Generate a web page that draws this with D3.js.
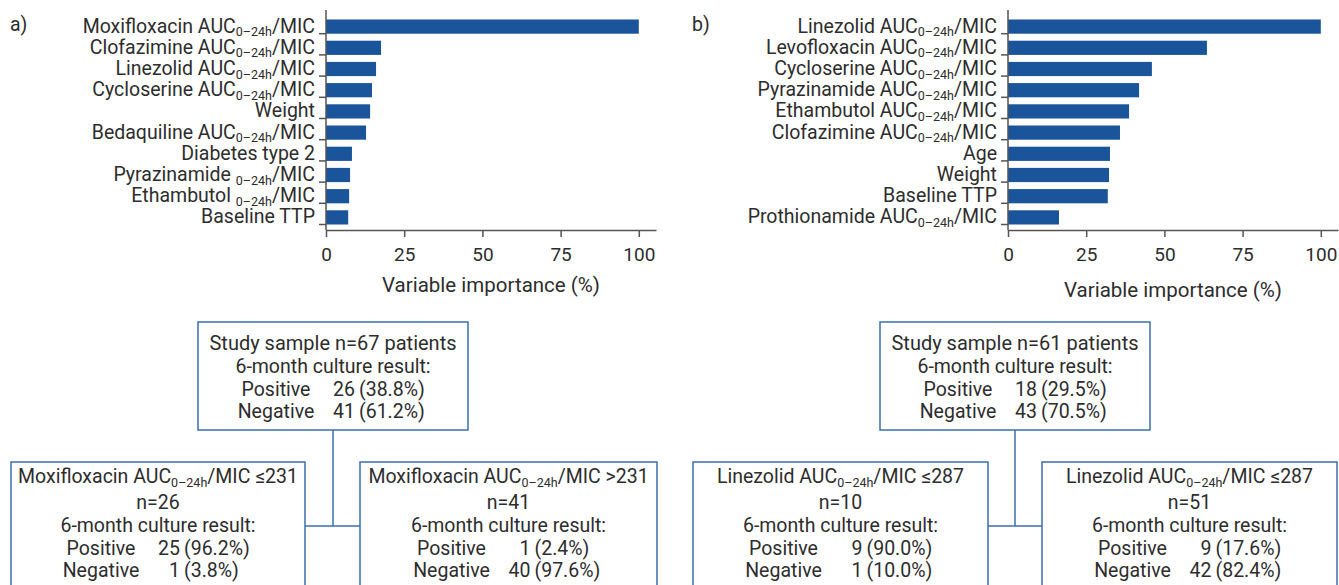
<!DOCTYPE html>
<html>
<head>
<meta charset="utf-8">
<script src="https://cdn.jsdelivr.net/npm/d3@7"></script>
<style>
  body { margin: 0; background: #fff; }
  svg text { font-family: Roboto, "Noto Sans", sans-serif; fill: #2d2d2d; }
</style>
</head>
<body>
<svg id="chart" width="1339" height="585"></svg>
<script>
// Panel a) variable importance
const labelsA = [
  "Moxifloxacin AUC_{0–24h}/MIC",
  "Clofazimine AUC_{0–24h}/MIC",
  "Linezolid AUC_{0–24h}/MIC",
  "Cycloserine AUC_{0–24h}/MIC",
  "Weight",
  "Bedaquiline AUC_{0–24h}/MIC",
  "Diabetes type 2",
  "Pyrazinamide _{0–24h}/MIC",
  "Ethambutol _{0–24h}/MIC",
  "Baseline TTP"
];
const valuesA = [100, 17.6, 16.0, 14.7, 14.1, 12.8, 8.3, 7.7, 7.4, 7.1];

// Panel b) variable importance
const labelsB = [
  "Linezolid AUC_{0–24h}/MIC",
  "Levofloxacin AUC_{0–24h}/MIC",
  "Cycloserine AUC_{0–24h}/MIC",
  "Pyrazinamide AUC_{0–24h}/MIC",
  "Ethambutol AUC_{0–24h}/MIC",
  "Clofazimine AUC_{0–24h}/MIC",
  "Age",
  "Weight",
  "Baseline TTP",
  "Prothionamide AUC_{0–24h}/MIC"
];
const valuesB = [100, 63.6, 46.0, 41.9, 38.7, 35.8, 32.6, 32.3, 31.9, 16.3];

const xTicks = [0, 25, 50, 75, 100];
const xTitle = "Variable importance (%)";

// Decision trees: root box, then the two split boxes
const rootA = { n: 67, pos: 26, posPct: "38.8%", neg: 41, negPct: "61.2%" };
const splitsA = [
  { head: "Moxifloxacin AUC_{0–24h}/MIC ≤231", n: 26, pos: 25, posPct: "96.2%", neg: 1, negPct: "3.8%" },
  { head: "Moxifloxacin AUC_{0–24h}/MIC >231", n: 41, pos: 1, posPct: "2.4%", neg: 40, negPct: "97.6%" }
];
const rootB = { n: 61, pos: 18, posPct: "29.5%", neg: 43, negPct: "70.5%" };
const splitsB = [
  { head: "Linezolid AUC_{0–24h}/MIC ≤287", n: 10, pos: 9, posPct: "90.0%", neg: 1, negPct: "10.0%" },
  { head: "Linezolid AUC_{0–24h}/MIC ≤287", n: 51, pos: 9, posPct: "17.6%", neg: 42, negPct: "82.4%" }
];

const svg = d3.select("#chart");
const barColor = "#1a549b";
const axisColor = "#555";
const boxColor = "#3b6fb0";
const fontSize = 19.5;
const subSize = 12.5;

// write "text_{sub}text" as tspans with a lowered subscript
function richText(sel, str) {
  const parts = str.split(/_\{([^}]*)\}/);
  let shifted = false;
  parts.forEach((p, i) => {
    if (p === "") return;
    const t = sel.append("tspan").text(p);
    if (i % 2 === 1) {
      t.attr("font-size", subSize).attr("dy", 3.5);
      shifted = true;
    } else if (shifted) {
      t.attr("dy", -3.5);
      shifted = false;
    }
  });
}

function drawPanel(labels, values, x0, x1, letter, titleY) {
  const g = svg.append("g");
  const x = d3.scaleLinear().domain([0, 105.5]).range([x0, x1]);
  const y = d3.scaleBand().domain(d3.range(labels.length))
    .range([16, 228]).paddingInner(0.33).paddingOuter(0.165);

  g.append("text").attr("x", x0 - 316).attr("y", 31)
    .attr("font-size", fontSize).text(letter);

  g.selectAll("rect.bar").data(values).join("rect")
    .attr("class", "bar")
    .attr("x", x(0))
    .attr("y", (d, i) => y(i))
    .attr("width", d => x(d) - x(0))
    .attr("height", y.bandwidth())
    .attr("fill", barColor);

  // y axis ticks
  const ya = g.append("g").attr("transform", `translate(${x0},0)`)
    .call(d3.axisLeft(y).tickSize(7).tickFormat(""));
  ya.select(".domain").remove();
  ya.selectAll("line").attr("stroke", axisColor).attr("stroke-width", 1.5)
    .attr("transform", `translate(0,${y.bandwidth() / 2})`);
  g.append("line").attr("x1", x0).attr("x2", x0).attr("y1", 10).attr("y2", 230)
    .attr("stroke", axisColor).attr("stroke-width", 1.5);

  labels.forEach((l, i) => {
    const t = g.append("text")
      .attr("x", x0 - 11)
      .attr("y", y(i) + y.bandwidth() / 2 + 6)
      .attr("text-anchor", "end")
      .attr("font-size", fontSize);
    richText(t, l);
  });

  // x axis
  const xa = g.append("g").attr("transform", "translate(0,230)")
    .call(d3.axisBottom(x).tickValues(xTicks).tickSize(7).tickSizeOuter(0));
  xa.select(".domain").attr("stroke", axisColor).attr("stroke-width", 1.5);
  xa.selectAll("line").attr("stroke", axisColor).attr("stroke-width", 1.5);
  xa.selectAll("text").attr("y", 31).attr("dy", 0)
    .attr("font-size", 19).attr("font-family", null).attr("fill", null);

  g.append("text").attr("x", (x0 + x1) / 2).attr("y", titleY)
    .attr("text-anchor", "middle").attr("font-size", 20.5).text(xTitle);
}

function box(g, x0, x1, y0, y1) {
  g.append("rect").attr("x", x0).attr("y", y0)
    .attr("width", x1 - x0).attr("height", y1 - y0)
    .attr("fill", "#fff").attr("stroke", boxColor).attr("stroke-width", 1.5);
}

function resultRows(g, cx, ys, d) {
  [["Positive", d.pos, d.posPct], ["Negative", d.neg, d.negPct]].forEach((r, i) => {
    g.append("text").attr("x", cx - 57).attr("y", ys[i]).attr("text-anchor", "middle")
      .attr("font-size", fontSize).text(r[0]);
    g.append("text").attr("x", cx + 22).attr("y", ys[i]).attr("text-anchor", "end")
      .attr("font-size", fontSize).text(r[1]);
    g.append("text").attr("x", cx + 26).attr("y", ys[i]).attr("text-anchor", "start")
      .attr("font-size", fontSize).text(`(${r[2]})`);
  });
}

function drawTree(root, splits, rootX0, rootX1, leftBox, rightBox) {
  const g = svg.append("g");
  const cx = (rootX0 + rootX1) / 2;
  // connectors
  g.append("line").attr("x1", cx).attr("x2", cx).attr("y1", 430).attr("y2", 526)
    .attr("stroke", boxColor).attr("stroke-width", 1.5);
  g.append("line").attr("x1", leftBox[1]).attr("x2", rightBox[0]).attr("y1", 526).attr("y2", 526)
    .attr("stroke", boxColor).attr("stroke-width", 1.5);

  box(g, rootX0, rootX1, 322, 430);
  g.append("text").attr("x", cx).attr("y", 350).attr("text-anchor", "middle")
    .attr("font-size", 20).text(`Study sample n=${root.n} patients`);
  g.append("text").attr("x", cx).attr("y", 373).attr("text-anchor", "middle")
    .attr("font-size", fontSize).text("6-month culture result:");
  resultRows(g, cx, [396, 418], root);

  [leftBox, rightBox].forEach((b, i) => {
    const d = splits[i];
    const bx = (b[0] + b[1]) / 2;
    box(g, b[0], b[1], 462, 620);
    const h = g.append("text").attr("x", bx).attr("y", 483).attr("text-anchor", "middle")
      .attr("font-size", fontSize);
    richText(h, d.head);
    g.append("text").attr("x", bx).attr("y", 509).attr("text-anchor", "middle")
      .attr("font-size", fontSize).text(`n=${d.n}`);
    g.append("text").attr("x", bx).attr("y", 532).attr("text-anchor", "middle")
      .attr("font-size", fontSize).text("6-month culture result:");
    resultRows(g, bx, [555, 577], d);
  });
}

drawPanel(labelsA, valuesA, 326, 656, "a)", 292);
drawPanel(labelsB, valuesB, 1008, 1338, "b)", 297);
drawTree(rootA, splitsA, 198, 468, [11, 305], [360, 657]);
drawTree(rootB, splitsB, 880, 1150, [693, 988], [1042, 1337]);
</script>
</body>
</html>
